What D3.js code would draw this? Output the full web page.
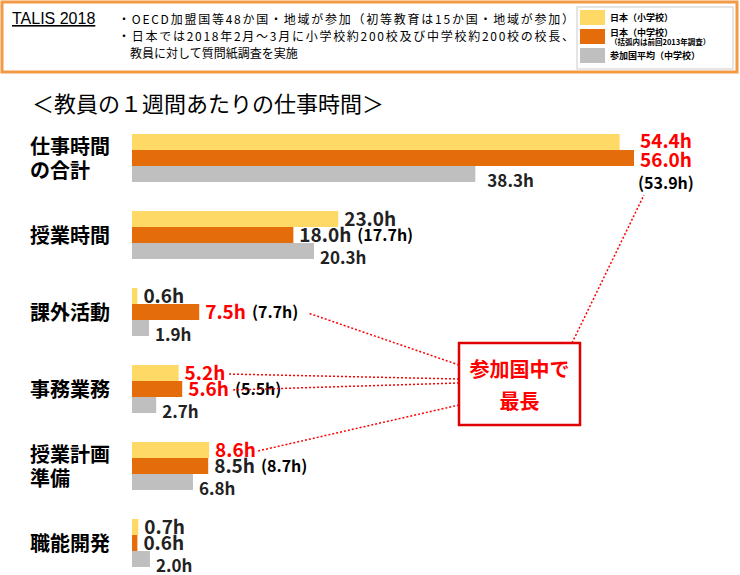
<!DOCTYPE html>
<html><head><meta charset="utf-8">
<script src="https://cdn.jsdelivr.net/npm/d3@7"></script>
<style>body{margin:0;background:#fff}svg{font-family:"Noto Sans CJK JP",sans-serif}</style>
</head><body><svg id="c" width="740" height="575"></svg>
<script>
const categories = [["仕事時間","の合計"],["授業時間"],["課外活動"],["事務業務"],["授業計画","準備"],["職能開発"]];
const elementary = [54.4, 23.0, 0.6, 5.2, 8.6, 0.7];
const middle = [56.0, 18.0, 7.5, 5.6, 8.5, 0.6];
const middlePrev = [53.9, 17.7, 7.7, 5.5, 8.7, null];
const oecd = [38.3, 20.3, 1.9, 2.7, 6.8, 2.0];
const longest = [[true, true], [false, false], [false, true], [true, true], [true, false], [false, false]]; // [小, 中]
const legendItems = ["日本（小学校）", "日本（中学校）", "参加国平均（中学校）"];

const colors = ["#FFD966", "#E46C0A", "#BFBFBF"];
const svg = d3.select("#c");
const x = d3.scaleLinear().domain([0, 56]).range([132, 634]);
const y = d3.scaleBand().domain(d3.range(6)).range([134, 567]).paddingInner(0.377).paddingOuter(0);
const bh = y.bandwidth() / 3;

// header box
svg.append("rect").attr("x", 2).attr("y", 2).attr("width", 735).attr("height", 70)
  .attr("fill", "none").attr("stroke", "#F29A45").attr("stroke-width", 3);
svg.append("text").attr("x", 12).attr("y", 24).attr("font-size", 16).attr("font-family", "Liberation Sans Narrow, Arial")
  .attr("text-decoration", "underline").text("TALIS 2018");
["・OECD加盟国等48か国・地域が参加（初等教育は15か国・地域が参加）",
 "・日本では2018年2月～3月に小学校約200校及び中学校約200校の校長、",
 "　教員に対して質問紙調査を実施"].forEach((t, i) =>
  svg.append("text").attr("x", 118).attr("y", 24 + i * 17).attr("font-size", 12).attr("textLength", i < 2 ? 456 : null).text(t));
svg.append("rect").attr("x", 577).attr("y", 7).attr("width", 156).attr("height", 62).attr("fill", "#fff").attr("stroke", "#ccc");
legendItems.forEach((t, i) => {
  const ly = 10 + i * 19;
  svg.append("rect").attr("x", 580).attr("y", ly).attr("width", 25).attr("height", 15).attr("fill", colors[i]);
  svg.append("text").attr("x", 610).attr("y", ly + (i == 1 ? 7 : 11)).attr("font-size", 9).attr("font-weight", "bold").text(t);
});
svg.append("text").attr("x", 610).attr("y", 45).attr("font-size", 7.5).attr("font-weight", "bold").text("（括弧内は前回2013年調査）");

svg.append("text").attr("x", 32).attr("y", 112).attr("font-size", 22).text("＜教員の１週間あたりの仕事時間＞");

const series = [elementary, middle, oecd];
categories.forEach((lines, i) => {
  const y0 = y(i);
  const cy = y0 + y.bandwidth() / 2;
  lines.forEach((t, k) => svg.append("text").attr("x", 30)
    .attr("y", cy + 8 + (k - (lines.length - 1) / 2) * 24).attr("font-size", 20).attr("font-weight", "bold").text(t));
  series.forEach((s, j) => {
    svg.append("rect").attr("x", x(0)).attr("y", y0 + j * bh).attr("width", x(s[i]) - x(0)).attr("height", bh)
      .attr("fill", colors[j]);
  });
});

// value labels
const labelPos = [];
categories.forEach((_, i) => {
  const y0 = y(i);
  labelPos[i] = [];
  series.forEach((s, j) => {
    let lx = x(s[i]) + 6, ly = y0 + j * bh + bh - 1;
    if (j == 2) ly += 6;
    if (i == 0 && j < 2) { lx = 640; ly += j == 0 ? -1 : 2; }
    if (i == 0 && j == 2) lx = x(s[i]) + 12;
    const red = j < 2 && longest[i][j];
    const t = svg.append("text").attr("x", lx).attr("y", ly).attr("font-size", j == 2 ? 17 : 19)
      .attr("font-weight", "bold").attr("fill", red ? "#FF0000" : "#222").text(s[i].toFixed(1) + "h");
    const w = t.node().getComputedTextLength();
    labelPos[i][j] = [lx, ly, w];
    if (j == 1 && middlePrev[i] != null) {
      if (i == 0) svg.append("text").attr("x", lx - 2).attr("y", ly + 22).attr("font-size", 16).attr("font-weight", "bold").text(`(${middlePrev[i].toFixed(1)}h)`);
      else svg.append("text").attr("x", lx + w + 6).attr("y", ly - 1).attr("font-size", 16).attr("font-weight", "bold").text(`(${middlePrev[i].toFixed(1)}h)`);
    }
  });
});

// callout
const bx = 459, by = 343, bw = 121, bhh = 82;
const targets = [];
longest.forEach((r, i) => r.forEach((f, j) => { if (f) targets.push([i, j]); }));
targets.forEach(([i, j]) => {
  const [lx, ly, w] = labelPos[i][j];
  let sx, sy, tx, ty;
  if (i == 0) { if (j == 0) return; sx = bx + bw - 8; sy = by; tx = lx + 4; ty = ly + 28; }
  else { sx = bx; sy = by + 22 + (i == 2 ? 0 : i == 3 ? (j == 0 ? 14 : 18) : 40); tx = lx + w + 2; ty = ly - 6; if (i == 2) tx += 60; }
  svg.append("line").attr("x1", sx).attr("y1", sy).attr("x2", tx).attr("y2", ty)
    .attr("stroke", "#FF0000").attr("stroke-width", 1.5).attr("stroke-dasharray", "2,2");
});
svg.append("rect").attr("x", bx).attr("y", by).attr("width", bw).attr("height", bhh)
  .attr("fill", "#fff").attr("stroke", "#E00000").attr("stroke-width", 2.5);
svg.append("text").attr("x", bx + bw / 2).attr("y", by + 34).attr("text-anchor", "middle").attr("font-size", 20)
  .attr("font-weight", "bold").attr("fill", "#FF0000").text("参加国中で");
svg.append("text").attr("x", bx + bw / 2).attr("y", by + 66).attr("text-anchor", "middle").attr("font-size", 20)
  .attr("font-weight", "bold").attr("fill", "#FF0000").text("最長");
</script></body></html>
